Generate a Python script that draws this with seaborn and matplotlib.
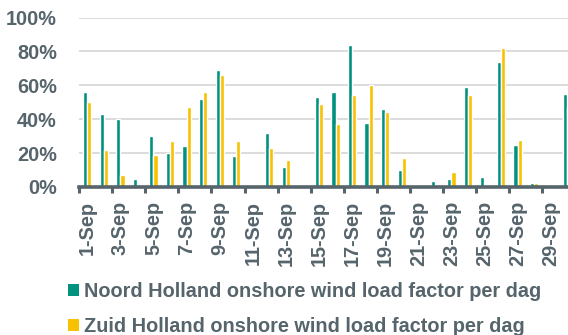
import matplotlib
matplotlib.use("Agg")
import matplotlib.pyplot as plt
from matplotlib.patches import Patch
from matplotlib.ticker import FixedLocator, PercentFormatter
import seaborn as sns
import pandas as pd

# Daily onshore wind load factors (%), September
days = [f"{d}-Sep" for d in range(1, 31)]
noord_holland = [56, 43, 40, 5, 30, 20, 24, 52, 69, 18,
                 0.5, 32, 12, 0, 53, 56, 84, 38, 46, 10,
                 0.5, 3.5, 4.5, 59, 6, 74, 25, 2.5, 0.4, 55]
zuid_holland = [50, 22, 7, 0, 19, 27, 47, 56, 66, 27,
                0, 23, 16, 0.3, 49, 37, 54, 60, 44, 17,
                0, 0, 9, 54, 1.2, 82, 28, 2.5, 0, 47]
series_names = ["Noord Holland onshore wind load factor per dag",
                "Zuid Holland onshore wind load factor per dag"]
colors = ["#00917f", "#f7c200"]
text_color = "#56646c"
fs = 14.3

df = pd.DataFrame({
    "day": days * 2,
    "value": noord_holland + zuid_holland,
    "series": [series_names[0]] * len(days) + [series_names[1]] * len(days),
})

sns.set_theme(style="white")
plt.rcParams["font.family"] = ["Liberation Sans", "DejaVu Sans"]
plt.rcParams["font.weight"] = "bold"

W, H = 568, 335
fig = plt.figure(figsize=(W / 100, H / 100), dpi=100)
n = len(days)
cat_w = 16.55
left_px, base_px, top_px = 79, 187, 17.5
ax = fig.add_axes([left_px / W, (H - base_px) / H,
                   n * cat_w / W, (base_px - top_px) / H])

sns.barplot(data=df, x="day", y="value", hue="series", order=days,
            hue_order=series_names, palette=colors, width=0.5, gap=0,
            saturation=1, legend=False, ax=ax)

ax.set_xlim(-0.5, n - 0.5)
ax.set_ylim(0, 100)
ax.yaxis.set_major_locator(FixedLocator([0, 20, 40, 60, 80, 100]))
ax.yaxis.set_major_formatter(PercentFormatter(decimals=0))
ax.grid(axis="y", color="#d9d9d9", linewidth=1.3)
ax.set_axisbelow(True)
for side in ["left", "right", "top"]:
    ax.spines[side].set_visible(False)
ax.spines["bottom"].set_color("#56646c")
ax.spines["bottom"].set_linewidth(2.6)

# labels on every other day, tick marks on category boundaries
ax.set_xticks(range(0, n, 2))
ax.set_xticklabels(days[::2], rotation=90, fontsize=fs, fontweight="bold",
                   color=text_color)
ax.set_xticks([x - 0.5 for x in range(0, n, 2)], minor=True)
ax.tick_params(axis="x", which="major", length=0, pad=10)
ax.tick_params(axis="x", which="minor", length=4, width=2.2,
               color="#56646c", bottom=True)
ax.tick_params(axis="y", length=0, pad=16, labelsize=fs,
               labelcolor=text_color)
for lbl in ax.get_yticklabels():
    lbl.set_fontweight("bold")
ax.set_xlabel("")
ax.set_ylabel("")

handles = [Patch(facecolor=c, edgecolor="none") for c in colors]
fig.legend(handles, series_names, loc="upper left",
           bbox_to_anchor=(60 / W, 1 - 274 / H), frameon=False,
           prop={"size": fs, "weight": "bold"}, labelcolor=text_color,
           handlelength=0.55, handleheight=0.55, handletextpad=0.25,
           labelspacing=0.8, borderaxespad=0)

fig.savefig("out.png", dpi=100)
